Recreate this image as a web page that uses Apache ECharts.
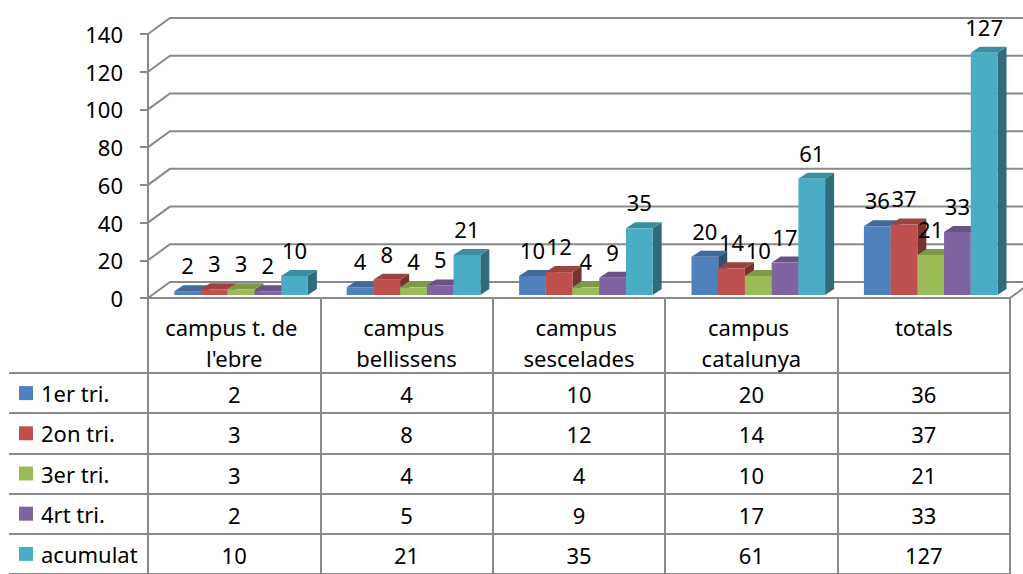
<!DOCTYPE html>
<html>
<head>
<meta charset="utf-8">
<script src="https://cdn.jsdelivr.net/npm/echarts@6/dist/echarts.min.js"></script>
<style>
html,body{margin:0;padding:0;background:#fff;}
#chart{width:1023px;height:574px;}
</style>
</head>
<body>
<div id="chart"></div>
<script>
// ---- data ----
const categories = ["campus t. de l'ebre", 'campus bellissens', 'campus sescelades', 'campus catalunya', 'totals'];
const seriesNames = ['1er tri.', '2on tri.', '3er tri.', '4rt tri.', 'acumulat'];
const tri1 = [2, 4, 10, 20, 36];
const tri2 = [3, 8, 12, 14, 37];
const tri3 = [3, 4, 4, 10, 21];
const tri4 = [2, 5, 9, 17, 33];
const acumulat = [10, 21, 35, 61, 127];
const yTicks = [0, 20, 40, 60, 80, 100, 120, 140];

const seriesValues = [tri1, tri2, tri3, tri4, acumulat];
const colors = ['#4F81BD', '#C0504D', '#9BBB59', '#8064A2', '#4BACC6'];
const FONT = 'Noto Sans';
const LINE = '#898989';

function shade(hex, f) {
  const n = parseInt(hex.slice(1), 16);
  const r = Math.round(((n >> 16) & 255) * f), g = Math.round(((n >> 8) & 255) * f), b = Math.round((n & 255) * f);
  return 'rgb(' + r + ',' + g + ',' + b + ')';
}

const DX = 9, DY = 6;           // bar depth
const WDX = 22, WDY = 16;       // wall depth

function barGeom(api, s) {
  const i = api.value(0), v = api.value(1);
  const top = api.coord([i, v]);
  const base = api.coord([i, 0]);
  const bw = api.size([1, 0])[0];
  const w = bw * 0.155;
  const x = top[0] + bw * 0.04 - 2.5 * w + s * w;
  return { x, w, yt: top[1], yb: base[1] };
}

function barRender(s) {
  const c = colors[s], topC = shade(c, 0.82), sideC = shade(c, 0.62);
  return function (params, api) {
    const g = barGeom(api, s);
    const { x, w, yt, yb } = g;
    return {
      type: 'group',
      children: [
        { type: 'polygon', shape: { points: [[x + w, yt], [x + w + DX, yt - DY], [x + w + DX, yb - DY], [x + w, yb]] }, style: { fill: sideC } },
        { type: 'polygon', shape: { points: [[x, yt], [x + DX, yt - DY], [x + w + DX, yt - DY], [x + w, yt]] }, style: { fill: topC } },
        { type: 'rect', shape: { x: x, y: yt, width: w, height: yb - yt }, style: { fill: c } }
      ]
    };
  };
}

function labelRender(s) {
  return function (params, api) {
    const g = barGeom(api, s);
    return {
      type: 'text',
      style: {
        x: g.x + g.w / 2, y: g.yt - 26,
        text: String(api.value(1)),
        fill: '#000', font: '22px "' + FONT + '"',
        align: 'center', verticalAlign: 'middle'
      }
    };
  };
}

function wallRender(params, api) {
  const v = api.value(1);
  const p = api.coord([0, v]);
  const bw = api.size([1, 0])[0];
  const xL = p[0] - bw / 2;
  const xR = xL + bw * categories.length;
  const y = p[1];
  const children = [{
    type: 'polyline',
    shape: { points: [[xL, y], [xL + WDX, y - WDY], [xR + WDX, y - WDY]] },
    style: { stroke: LINE, lineWidth: 2, fill: null }
  }];
  if (v === 0) {
    children.push({
      type: 'polyline',
      shape: { points: [[xL, y], [xR, y], [xR + WDX, y - WDY]] },
      style: { stroke: LINE, lineWidth: 2, fill: null }
    });
  }
  return { type: 'group', children };
}

function cellRender(params, api) {
  const p = api.coord([api.value(0), api.value(1)]);
  return {
    type: 'text',
    style: {
      x: p[0], y: p[1] + 1,
      text: String(api.value(2)),
      fill: '#000', font: '22px "' + FONT + '"',
      align: 'center', verticalAlign: 'middle'
    }
  };
}

const rich = { t: { fontSize: 22, fontFamily: FONT, color: '#000', padding: [0, 0, 0, 8] } };
colors.forEach((c, k) => { rich['s' + k] = { width: 14, height: 14, backgroundColor: c }; });

const cellData = [];
seriesValues.forEach((arr, s) => arr.forEach((v, i) => cellData.push([i, s, v])));

const series = [];
series.push({
  type: 'custom', xAxisIndex: 0, yAxisIndex: 0, z: 1, silent: true,
  data: yTicks.map(v => [0, v]), encode: { x: 0, y: 1 },
  renderItem: wallRender
});
seriesValues.forEach((arr, s) => {
  series.push({
    type: 'custom', name: seriesNames[s], xAxisIndex: 1, yAxisIndex: 1, z: 2,
    data: arr.map((v, i) => [i, v]), encode: { x: 0, y: 1 },
    renderItem: barRender(s)
  });
});
seriesValues.forEach((arr, s) => {
  series.push({
    type: 'custom', xAxisIndex: 1, yAxisIndex: 1, z: 3, silent: true,
    data: arr.map((v, i) => [i, v]), encode: { x: 0, y: 1 },
    renderItem: labelRender(s)
  });
});
series.push({
  type: 'custom', xAxisIndex: 2, yAxisIndex: 2, z: 3, silent: true,
  data: cellData, encode: { x: 0, y: 1 },
  renderItem: cellRender
});

const chart = echarts.init(document.getElementById('chart'), null, { renderer: 'svg' });
chart.setOption({
  backgroundColor: '#fff',
  animation: false,
  textStyle: { fontFamily: FONT },
  grid: [
    { left: 148, right: 13, top: 34, bottom: 276 },   // front axis + walls
    { left: 148, right: 13, top: 28, bottom: 279 },   // bars
    { left: 148, right: 13, top: 373, bottom: -6 }    // data table
  ],
  xAxis: [
    { gridIndex: 0, type: 'category', data: categories, show: false },
    { gridIndex: 1, type: 'category', data: categories, show: false },
    {
      gridIndex: 2, type: 'category', data: categories, position: 'top',
      axisLine: { show: true, lineStyle: { color: LINE, width: 2 } },
      axisTick: { show: true, length: 76, lineStyle: { color: LINE, width: 2 } },
      splitLine: { show: true, lineStyle: { color: LINE, width: 2 } },
      axisLabel: {
        interval: 0, margin: 62, verticalAlign: 'top', width: 160, overflow: 'break',
        lineHeight: 31, fontSize: 22, fontFamily: FONT, color: '#000'
      }
    }
  ],
  yAxis: [
    {
      gridIndex: 0, type: 'value', min: yTicks[0], max: yTicks[yTicks.length - 1], interval: 20,
      axisLine: { show: true, lineStyle: { color: LINE, width: 2 } },
      axisTick: { show: true, length: 8, lineStyle: { color: LINE, width: 2 } },
      splitLine: { show: false },
      axisLabel: { margin: 25, fontSize: 22, fontFamily: FONT, color: '#000' }
    },
    { gridIndex: 1, type: 'value', min: yTicks[0], max: yTicks[yTicks.length - 1], show: false },
    {
      gridIndex: 2, type: 'category', data: seriesNames, inverse: true,
      axisLine: { show: true, lineStyle: { color: LINE, width: 2 } },
      axisTick: { show: true, length: 139, lineStyle: { color: LINE, width: 2 } },
      splitLine: { show: true, lineStyle: { color: LINE, width: 2 } },
      axisLabel: {
        interval: 0, align: 'left', margin: 129,
        formatter: (val, idx) => '{s' + idx + '|}{t|' + val + '}',
        rich: rich
      }
    },
    {
      gridIndex: 2, type: 'category', data: seriesNames, inverse: true, offset: 139,
      axisLine: { show: true, lineStyle: { color: LINE, width: 2 } },
      axisTick: { show: false }, axisLabel: { show: false }, splitLine: { show: false }
    }
  ],
  series: series
});
</script>
</body>
</html>
